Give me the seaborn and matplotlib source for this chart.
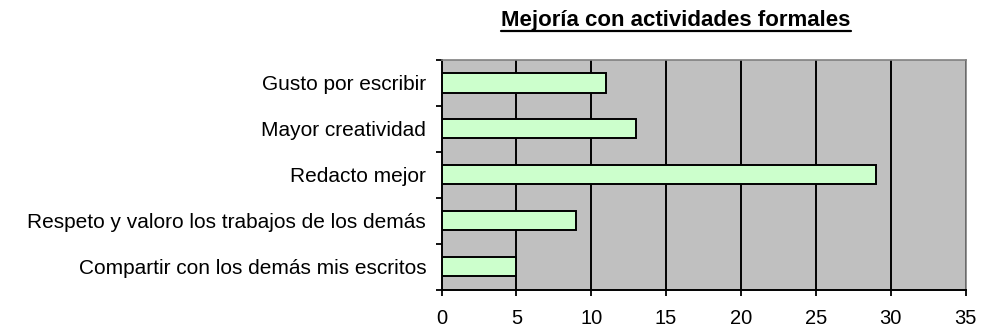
import matplotlib
matplotlib.use("Agg")
import matplotlib.pyplot as plt
import seaborn as sns
import pandas as pd
import numpy as np

categories = [
    "Gusto por escribir",
    "Mayor creatividad",
    "Redacto mejor",
    "Respeto y valoro los trabajos de los demás",
    "Compartir con los demás mis escritos",
]
values = [11, 13, 29, 9, 5]
x_ticks = [0, 5, 10, 15, 20, 25, 30, 35]
title = "Mejoría con actividades formales"

sns.set_theme(style="white")
plt.rcParams["font.family"] = ["Liberation Sans", "DejaVu Sans"]
plt.rcParams["text.color"] = "black"
plt.rcParams["xtick.color"] = "black"
plt.rcParams["ytick.color"] = "black"

df = pd.DataFrame({"categoria": categories, "valor": values})

W, H = 984, 330
fig = plt.figure(figsize=(W / 100, H / 100), dpi=100)
left, right, top, bottom = 441.5, 965.5, 60, 289.5
ax = fig.add_axes([left / W, 1 - bottom / H, (right - left) / W, (bottom - top) / H])
ax.set_facecolor("#C0C0C0")

sns.barplot(data=df, x="valor", y="categoria", orient="h", color="#CCFFCC",
            edgecolor="black", linewidth=1.4, width=0.42, saturation=1, ax=ax,
            zorder=3)

ax.set_xlim(0, 35)
ax.set_ylim(4.5, -0.5)
ax.set_xticks(x_ticks)
ax.set_xticklabels([str(t) for t in x_ticks], fontsize=14.5)
for t in x_ticks[1:]:
    ax.axvline(t, color="black", linewidth=1.4, zorder=1)

ax.set_yticks(range(len(categories)))
ax.set_yticklabels(categories, fontsize=15)
ax.set_yticks(np.arange(-0.5, len(categories)), minor=True)
ax.tick_params(axis="y", which="major", length=0, pad=11)
ax.tick_params(axis="y", which="minor", length=4, width=1.3, color="black",
               direction="out", left=True)
ax.tick_params(axis="x", which="major", length=4, width=1.3, color="black",
               direction="out", bottom=True, pad=10)
ax.set_xlabel("")
ax.set_ylabel("")

for side in ("left", "bottom"):
    ax.spines[side].set_color("black")
    ax.spines[side].set_linewidth(1.4)
for side in ("top", "right"):
    ax.spines[side].set_color("#808080")
    ax.spines[side].set_linewidth(1.2)

t = fig.text(676 / W, 1 - 26 / H, title, ha="center", va="baseline",
             fontsize=16, fontweight="bold")
fig.canvas.draw()
bb = t.get_window_extent()
uy = 1 - 30.5 / H
fig.add_artist(plt.Line2D([bb.x0 / W, bb.x1 / W], [uy, uy],
                          transform=fig.transFigure, color="black", linewidth=1.6))

fig.savefig("out.png", dpi=100)
